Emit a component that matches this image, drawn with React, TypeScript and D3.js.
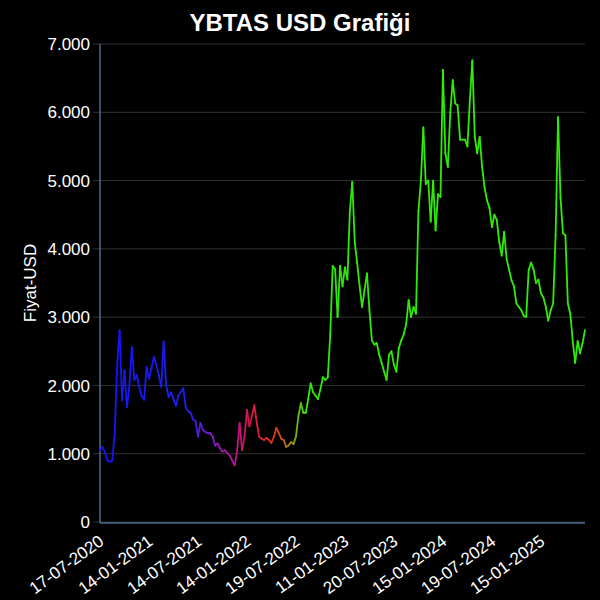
import React from "react";
import * as d3 from "d3";

const title = "YBTAS USD Grafiği";
const yAxisTitle = "Fiyat-USD";

const tickLabels = [
  "17-07-2020", "14-01-2021", "14-07-2021", "14-01-2022", "19-07-2022",
  "11-01-2023", "20-07-2023", "15-01-2024", "19-07-2024", "15-01-2025",
];
const tickEvery = 20;

const yTicks = [0, 1, 2, 3, 4, 5, 6, 7];

const prices = [
  1.05, 1.10, 1.02, 0.90, 0.88, 0.90, 1.30, 2.30, 2.81, 1.78,
  2.22, 1.68, 2.00, 2.56, 2.08, 2.15, 1.98, 1.85, 1.79, 2.27,
  2.10, 2.25, 2.42, 2.30, 2.15, 1.98, 2.64, 2.00, 1.83, 1.90,
  1.80, 1.70, 1.85, 1.90, 1.96, 1.68, 1.62, 1.60, 1.50, 1.48,
  1.25, 1.45, 1.35, 1.32, 1.30, 1.30, 1.25, 1.12, 1.15, 1.08,
  1.03, 1.05, 1.01, 0.97, 0.90, 0.83, 1.05, 1.45, 1.05, 1.25,
  1.64, 1.40, 1.55, 1.71, 1.45, 1.25, 1.22, 1.20, 1.23, 1.20,
  1.16, 1.25, 1.38, 1.30, 1.22, 1.20, 1.10, 1.12, 1.17, 1.14,
  1.25, 1.55, 1.74, 1.60, 1.60, 1.80, 2.03, 1.90, 1.85, 1.80,
  1.95, 2.12, 2.08, 2.12, 2.75, 3.75, 3.70, 3.00, 3.75, 3.45,
  3.73, 3.55, 4.55, 4.98, 4.10, 3.79, 3.45, 3.15, 3.40, 3.64,
  3.10, 2.66, 2.60, 2.62, 2.45, 2.33, 2.20, 2.08, 2.45, 2.50,
  2.30, 2.20, 2.55, 2.66, 2.75, 2.90, 3.25, 3.00, 3.15, 3.05,
  4.55, 5.00, 5.78, 4.95, 5.00, 4.40, 5.00, 4.27, 4.80, 4.76,
  6.62, 5.40, 5.20, 5.99, 6.47, 6.13, 6.10, 5.60, 5.60, 5.60,
  5.50, 6.18, 6.76, 5.64, 5.40, 5.64, 5.20, 4.90, 4.71, 4.60,
  4.32, 4.50, 4.42, 4.10, 3.90, 4.25, 3.85, 3.70, 3.54, 3.45,
  3.20, 3.15, 3.10, 3.02, 3.00, 3.69, 3.80, 3.70, 3.50, 3.55,
  3.35, 3.29, 3.15, 2.95, 3.10, 3.20, 4.20, 5.93, 4.75, 4.23,
  4.20, 3.20, 3.05, 2.65, 2.33, 2.65, 2.47, 2.62, 2.81,
];

const colorStops = [0, 35, 45, 55, 62, 72, 78, 84, 300];
const colorValues = [
  "#1414fa", "#1e1ef5", "#7a1ec8", "#b81490", "#dc1444", "#dc3c18",
  "#a08c14", "#30e80a", "#30f000",
];

const W = 600;
const H = 600;
const left = 100;
const right = 585;
const top = 44;
const bottom = 522;
const font = "'Liberation Sans', Arial, Helvetica, sans-serif";

export default function App() {
  const x = d3.scaleLinear().domain([0, prices.length - 1]).range([left, right]);
  const y = d3.scaleLinear().domain([0, 7]).range([bottom, top]);
  const color = d3
    .scaleLinear<string>()
    .domain(colorStops)
    .range(colorValues)
    .interpolate(d3.interpolateRgb);
  const fmt = (v: number) => (v === 0 ? "0" : v.toFixed(3).replace(".", ".") );

  const segs = [];
  for (let i = 0; i < prices.length - 1; i++) {
    const line = d3.line<number>()
      .x((_, k) => x(i + k))
      .y((d) => y(d));
    segs.push(
      <path
        key={i}
        d={line([prices[i], prices[i + 1]]) || ""}
        stroke={color(i + 0.5)}
        strokeWidth={1.8}
        strokeLinecap="round"
        fill="none"
      />
    );
  }

  return (
    <div style={{ position: "fixed", left: 0, top: 0, width: W, height: H, background: "#000" }}>
      <svg width={W} height={H} style={{ display: "block" }}>
        <rect width={W} height={H} fill="#000" />
        <text x={300} y={31} textAnchor="middle" fill="#fff" fontFamily={font} fontWeight="bold" fontSize={24}>
          {title}
        </text>
        {yTicks.map((t) => (
          <g key={t}>
            <line x1={93} x2={right} y1={y(t)} y2={y(t)} stroke="#333" strokeWidth={1} />
            <text x={90} y={y(t)} dy="0.36em" textAnchor="end" fill="#fff" fontFamily={font} fontSize={17}>
              {fmt(t)}
            </text>
          </g>
        ))}
        <line x1={left} x2={left} y1={top} y2={bottom + 1} stroke="#4d6e8e" strokeWidth={1.5} />
        <line x1={left} x2={right} y1={bottom + 1} y2={bottom + 1} stroke="#4d6e8e" strokeWidth={1.5} />
        <text
          transform={`translate(36,${(top + bottom) / 2}) rotate(-90)`}
          textAnchor="middle"
          fill="#fff"
          fontFamily={font}
          fontSize={17}
        >
          {yAxisTitle}
        </text>
        {tickLabels.map((lab, k) => {
          const tx = x(k * tickEvery);
          return (
            <text
              key={lab}
              transform={`translate(${tx - 2},${bottom + 12}) rotate(-36)`}
              textAnchor="end"
              dy="0.7em"
              fill="#fff"
              fontFamily={font}
              fontSize={17}
            >
              {lab}
            </text>
          );
        })}
        <g>{segs}</g>
      </svg>
    </div>
  );
}
